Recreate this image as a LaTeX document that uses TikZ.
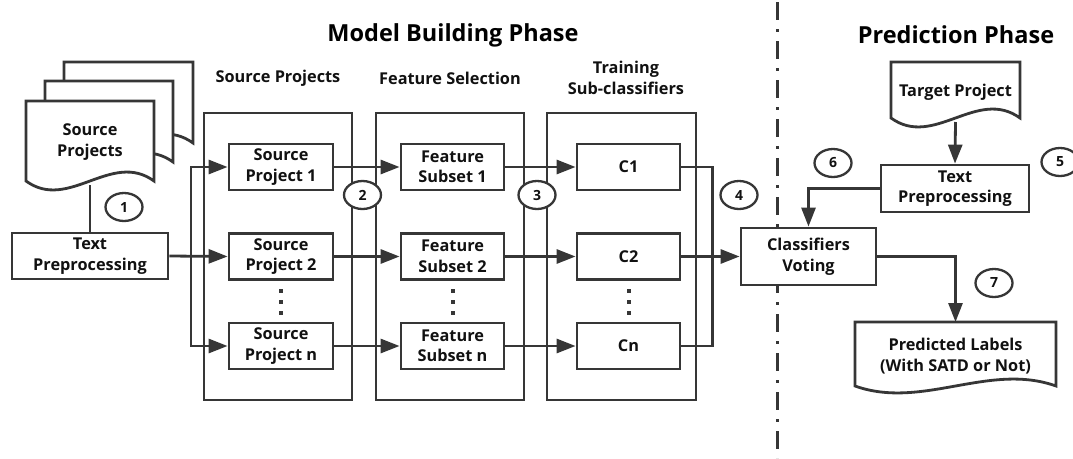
\documentclass[tikz,border=0pt]{standalone}
\usepackage{fontspec}
\setmainfont{Open Sans}
\usetikzlibrary{arrows.meta,shapes.geometric,calc}
\definecolor{ln}{HTML}{363636}
\definecolor{tx}{HTML}{111111}
\newcommand{\docpath}[5]{% left top right bottom amplitude
  \filldraw[docline] (#1,#2) -- (#3,#2) -- (#3,#4)
    .. controls ({#3-(#3-#1)/3},{#4-#5}) and ({#1+(#3-#1)/3},{#4+#5}) .. (#1,#4) -- cycle;}
\begin{document}
\begin{tikzpicture}[x=1pt,y=-1pt,
  docline/.style={draw=ln,fill=white,line width=2.8pt},
  stepbox/.style={draw=ln,fill=white,line width=2.8pt,inner sep=0pt,align=center,
     font=\fontsize{16.3}{20.5}\selectfont\bfseries,text=tx},
  outerbox/.style={draw=ln,line width=2.8pt},
  conn/.style={draw=ln,line width=2.8pt},
  arr/.style={conn,-{Triangle[length=19pt,width=14pt]}},
  num/.style={ellipse,draw=ln,fill=white,line width=2.3pt,minimum width=37pt,minimum height=28pt,inner sep=0pt,
     font=\fontsize{14}{16}\selectfont\bfseries,text=tx},
  lbl/.style={align=center,font=\fontsize{16.3}{20.5}\selectfont\bfseries,text=tx},
  title/.style={font=\fontsize{23.5}{28}\selectfont\bfseries,text=black},
  dots/.style={draw=ln,line width=4pt,dash pattern=on 4pt off 7pt}]
\useasboundingbox (0,0) rectangle (1073,458);
\fill[white] (0,0) rectangle (1073,458);

% titles
\node[title] (t1) at (453,35) {Model Building Phase};
\node[title] (t2) at (956,35) {Prediction Phase};
\node[lbl] (l1) at (278,78) {Source Projects};
\node[lbl] (l2) at (450,78) {Feature Selection};
\node[lbl] (l3) at (626,78) {Training\\Sub-classifiers};

% phase separator
\draw[ln,line width=3pt,dash pattern=on 18pt off 9pt on 3pt off 9pt] (777,2) -- (777,458);

% source document stack
\docpath{64}{62}{193}{143}{31}
\docpath{45}{81}{173}{162}{31}
\docpath{26}{101}{154}{181}{31}
\node[lbl] (srcdoc) at (90,142) {Source\\Projects};
\coordinate (srcdocb) at (90,185);

% outer group boxes
\draw[outerbox] (204,113) rectangle (352,400);
\draw[outerbox] (376,113) rectangle (524,400);
\draw[outerbox] (547,113) rectangle (696,400);

% nodes
\node[stepbox,minimum width=156pt,minimum height=46pt] (tp1) at (90,256) {Text\\Preprocessing};
\foreach \n/\y/\s in {1/167/1,2/256.5/2,n/346/n}{
  \node[stepbox,minimum width=104pt,minimum height=46pt] (sp\n) at (281,\y) {Source\\Project \s};
  \node[stepbox,minimum width=103pt,minimum height=46pt] (fs\n) at (452.5,\y) {Feature\\Subset \s};
  \node[stepbox,minimum width=103pt,minimum height=46pt] (c\n) at (628.5,\y) {C\s};
}
\draw[dots] (281,289) -- (281,316);
\draw[dots] (452.5,289) -- (452.5,316);
\draw[dots] (628.5,289) -- (628.5,316);

% connectors model building
\draw[conn] (srcdocb) -- (tp1.north);
\draw[arr] (tp1.east) -- (sp2.west);
\coordinate (split) at (191,256.5);
\draw[arr] (split) |- (sp1.west);
\draw[arr] (split) |- (spn.west);
\foreach \n in {1,2,n}{
  \draw[arr] (sp\n.east) -- (fs\n.west);
  \draw[arr] (fs\n.east) -- (c\n.west);
}
\draw[conn] (c1.east) -- ++(31,0) |- (cn.east);

% prediction phase
\node[stepbox,minimum width=135pt,minimum height=57pt] (cv) at (808.5,256.5) {Classifiers\\Voting};
\draw[arr] (c2.east) -- (cv.west);

\docpath{891}{62}{1020}{118}{31}
\node[lbl] (tgt) at (955.5,92) {Target Project};
\coordinate (tgtb) at (955.5,122);
\node[stepbox,minimum width=148pt,minimum height=47pt] (tp2) at (955,188.5) {Text\\Preprocessing};
\draw[arr] (tgtb) -- (tp2.north);
\draw[arr] (tp2.west) -| (cv.north);

\docpath{855}{322}{1056}{386}{24}
\node[lbl] (pl) at (955.5,356) {Predicted Labels\\(With SATD or Not)};
\coordinate (pltop) at (955.5,322);
\draw[arr] (cv.east) -| (pltop);

% step numbers
\node[num] (n1) at (124,207) {1};
\node[num] (n2) at (362.5,195) {2};
\node[num] (n3) at (537,195) {3};
\node[num] (n4) at (739,195) {4};
\node[num] (n5) at (1060,162) {5};
\node[num] (n6) at (833,163) {6};
\node[num] (n7) at (994,283) {7};
\end{tikzpicture}
\end{document}
